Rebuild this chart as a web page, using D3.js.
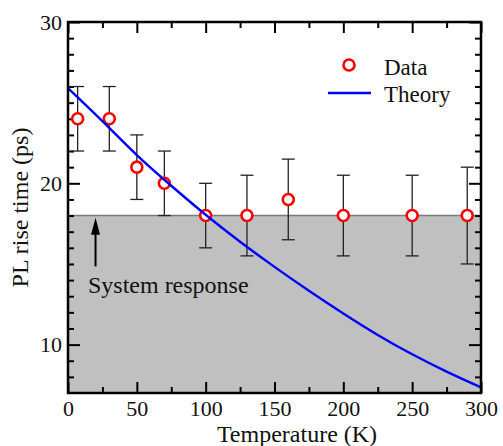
<!DOCTYPE html>
<html>
<head>
<meta charset="utf-8">
<script src="https://cdn.jsdelivr.net/npm/d3@7"></script>
<style>
body { margin: 0; background: #fff; }
text { font-family: "Liberation Serif", "Times New Roman", serif; fill: #111; }
</style>
</head>
<body>
<svg id="chart" width="503" height="446"></svg>
<script>
// measured points (K, ps) with error bars
var temps = [7, 30, 50, 70, 100, 130, 160, 200, 250, 290];
var riseTime = [24, 24, 21, 20, 18, 18, 19, 18, 18, 18];
var errLow = [22, 22, 19, 18, 16, 15.5, 16.5, 15.5, 15.5, 15];
var errHigh = [26, 26, 23, 22, 20, 20.5, 21.5, 20.5, 20.5, 21];

// theory curve
var theoryT = [0, 25, 50, 75, 100, 125, 150, 175, 200, 225, 250, 275, 300];
var theoryY = [25.9, 23.85, 21.75, 19.85, 18.05, 16.38, 14.82, 13.34, 11.93, 10.6, 9.4, 8.33, 7.35];

var systemResponse = 18;
var xTicks = [0, 50, 100, 150, 200, 250, 300];
var yTicks = [10, 20, 30];

var margin = {top: 22, right: 22, bottom: 53, left: 68};
var svg = d3.select("#chart"),
	width = 503 - margin.left - margin.right,
	height = 446 - margin.top - margin.bottom;

var g = svg.append("g").attr("transform", "translate(" + margin.left + "," + margin.top + ")");

var x = d3.scaleLinear().domain([0, 300]).range([0, width]);
var y = d3.scaleLinear().domain([7, 30]).range([height, 0]);

// shaded system response region
g.append("rect")
	.attr("x", 0)
	.attr("y", y(systemResponse))
	.attr("width", width)
	.attr("height", y(7) - y(systemResponse))
	.attr("fill", "#c0c0c0");
g.append("line")
	.attr("x1", 0).attr("x2", width)
	.attr("y1", y(systemResponse)).attr("y2", y(systemResponse))
	.attr("stroke", "#7a7a7a")
	.attr("stroke-width", 1.5);

// arrow + label
var ax = x(20);
g.append("line")
	.attr("x1", ax).attr("x2", ax)
	.attr("y1", y(14.85)).attr("y2", y(17.2))
	.attr("stroke", "#000").attr("stroke-width", 2);
g.append("path")
	.attr("d", "M" + ax + "," + y(17.86) + "L" + (ax - 4.5) + "," + (y(17.86) + 17) + "L" + (ax + 4.5) + "," + (y(17.86) + 17) + "Z")
	.attr("fill", "#000");
g.append("text")
	.attr("x", x(14.5))
	.attr("y", y(13.22))
	.attr("font-size", 24)
	.text("System response");

// axes: major and minor ticks on all four sides, pointing inward
function axisGroup(axis, tr) {
	var a = g.append("g").attr("transform", tr || null).call(axis);
	a.select(".domain").remove();
	a.selectAll(".tick line").attr("stroke", "#000").attr("stroke-width", 2);
	a.selectAll("text").attr("font-size", 22).attr("fill", "#111")
		.style("font-family", "'Liberation Serif', 'Times New Roman', serif");
	return a;
}

var minorY = d3.range(8, 30, 1).filter(function(v){ return v % 10 != 0; });

axisGroup(d3.axisBottom(x).tickValues(xTicks).tickSize(-11).tickPadding(7), "translate(0," + height + ")");
axisGroup(d3.axisBottom(x).tickValues(d3.range(25, 300, 50)).tickSize(-6).tickFormat(""), "translate(0," + height + ")");
axisGroup(d3.axisTop(x).tickValues(xTicks).tickSize(-11).tickFormat(""));
axisGroup(d3.axisTop(x).tickValues(d3.range(25, 300, 50)).tickSize(-6).tickFormat(""));

axisGroup(d3.axisLeft(y).tickValues(yTicks).tickSize(-12).tickPadding(6));
axisGroup(d3.axisLeft(y).tickValues(minorY).tickSize(-6).tickFormat(""));
axisGroup(d3.axisRight(y).tickValues(yTicks).tickSize(-12).tickFormat(""), "translate(" + width + ",0)");
axisGroup(d3.axisRight(y).tickValues(minorY).tickSize(-6).tickFormat(""), "translate(" + width + ",0)");

// error bars
var pts = temps.map(function(t, i) {
	return {t: t, v: riseTime[i], lo: errLow[i], hi: errHigh[i]};
});
var eb = g.append("g").attr("stroke", "#222").attr("stroke-width", 1.3);
pts.forEach(function(d) {
	var cx = x(d.t);
	eb.append("line").attr("x1", cx).attr("x2", cx).attr("y1", y(d.lo)).attr("y2", y(d.hi));
	eb.append("line").attr("x1", cx - 6.5).attr("x2", cx + 6.5).attr("y1", y(d.lo)).attr("y2", y(d.lo));
	eb.append("line").attr("x1", cx - 6.5).attr("x2", cx + 6.5).attr("y1", y(d.hi)).attr("y2", y(d.hi));
});

g.selectAll(".pt")
	.data(pts)
	.enter().append("circle")
	.attr("class", "pt")
	.attr("cx", function(d) { return x(d.t); })
	.attr("cy", function(d) { return y(d.v); })
	.attr("r", 5.5)
	.attr("fill", "#fff")
	.attr("stroke", "#ff0000")
	.attr("stroke-width", 2.6);

// theory line
var theory = theoryT.map(function(t, i) { return [t, theoryY[i]]; });
g.append("path")
	.datum(theory)
	.attr("fill", "none")
	.attr("stroke", "#0000ff")
	.attr("stroke-width", 2.4)
	.attr("d", d3.line()
		.x(function(d) { return x(d[0]); })
		.y(function(d) { return y(d[1]); })
		.curve(d3.curveNatural));

// frame
g.append("rect")
	.attr("width", width).attr("height", height)
	.attr("fill", "none").attr("stroke", "#000").attr("stroke-width", 2.5);

// legend
var lg = svg.append("g");
lg.append("circle").attr("cx", 349).attr("cy", 65).attr("r", 5.5)
	.attr("fill", "#fff").attr("stroke", "#ff0000").attr("stroke-width", 2.6);
lg.append("text").attr("x", 384).attr("y", 75).attr("font-size", 23).text("Data");
lg.append("line").attr("x1", 328).attr("x2", 371).attr("y1", 93).attr("y2", 93)
	.attr("stroke", "#0000ff").attr("stroke-width", 2.4);
lg.append("text").attr("x", 384).attr("y", 102).attr("font-size", 23).text("Theory");

// axis titles
svg.append("text")
	.attr("x", 297).attr("y", 442)
	.attr("text-anchor", "middle")
	.attr("font-size", 24)
	.text("Temperature (K)");
svg.append("text")
	.attr("transform", "translate(28," + (margin.top + height / 2) + ") rotate(-90)")
	.attr("text-anchor", "middle")
	.attr("font-size", 24)
	.text("PL rise time (ps)");
</script>
</body>
</html>
